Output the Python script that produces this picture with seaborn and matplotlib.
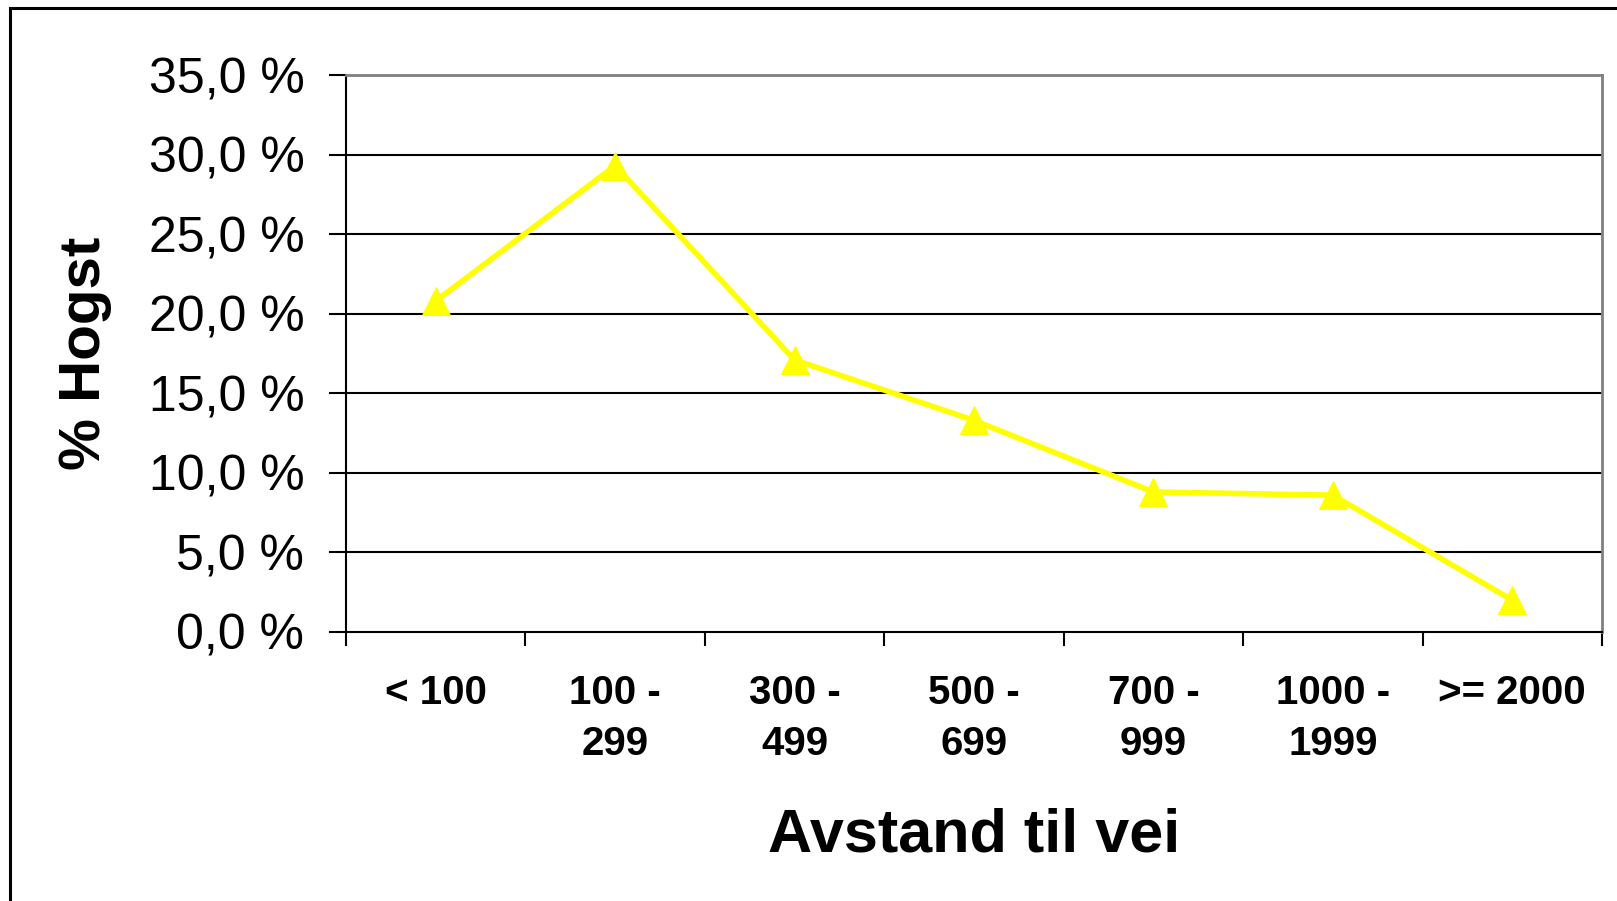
import matplotlib
matplotlib.use("Agg")
import matplotlib.pyplot as plt
import numpy as np
import pandas as pd
import seaborn as sns
from matplotlib.patches import Rectangle
from matplotlib.ticker import FixedLocator, FuncFormatter

# Share of logging (%) by distance to road
categories = ["< 100", "100 -\n299", "300 -\n499", "500 -\n699",
              "700 -\n999", "1000 -\n1999", ">= 2000"]
hogst_pct = [20.8, 29.3, 17.1, 13.3, 8.8, 8.6, 2.0]
y_ticks = [0, 5, 10, 15, 20, 25, 30, 35]

df = pd.DataFrame({"pos": np.arange(len(categories)), "hogst": hogst_pct})

sns.set_style("white")
plt.rcParams["font.family"] = ["Liberation Sans", "DejaVu Sans"]
plt.rcParams["text.color"] = "black"
plt.rcParams["axes.labelcolor"] = "black"
plt.rcParams["xtick.color"] = "black"
plt.rcParams["ytick.color"] = "black"

W, H = 1617, 901
fig = plt.figure(figsize=(W / 100, H / 100), dpi=100)
ax = fig.add_axes([346 / W, 1 - 632 / H, (1602 - 346) / W, (632 - 75) / H])

# outer chart frame
fig.patches.append(Rectangle((10 / W, -0.05), 1.2, 1 - 8 / H + 0.05,
                             transform=fig.transFigure, fill=False,
                             edgecolor="black", linewidth=2.2, zorder=0))

for v in y_ticks[1:-1]:
    ax.axhline(v, color="black", linewidth=1.5, zorder=1)

sns.lineplot(data=df, x="pos", y="hogst", ax=ax, sort=False,
             color="#FFFF00", linewidth=4, marker="^", markersize=20,
             markeredgecolor="#FFFF00", markerfacecolor="#FFFF00", zorder=3)

ax.set_xlim(-0.5, len(categories) - 0.5)
ax.set_ylim(0, 35)

ax.set_yticks(y_ticks)
ax.yaxis.set_major_formatter(FuncFormatter(lambda v, p: f"{v:.1f}".replace(".", ",") + " %"))
ax.tick_params(axis="y", which="major", direction="out", length=12, width=1.5,
               color="black", labelcolor="black", labelsize=36, pad=18, left=True)

ax.set_xticks(np.arange(len(categories)))
ax.set_xticklabels(categories, fontweight="bold", fontsize=29, linespacing=1.45)
ax.tick_params(axis="x", which="major", length=0, pad=30, bottom=True,
               labelcolor="black")
ax.xaxis.set_minor_locator(FixedLocator(np.arange(-0.5, len(categories), 1.0)))
ax.tick_params(axis="x", which="minor", direction="out", length=10, width=1.5,
               color="black", bottom=True)

ax.set_xlabel("Avstand til vei", fontsize=44, fontweight="bold", labelpad=32,
              color="black")
ax.set_ylabel("% Hogst", fontsize=42, fontweight="bold", labelpad=26,
              color="black")

for side in ["left", "bottom"]:
    ax.spines[side].set_color("black")
    ax.spines[side].set_linewidth(1.5)
for side in ["top", "right"]:
    ax.spines[side].set_visible(True)
    ax.spines[side].set_color("#808080")
    ax.spines[side].set_linewidth(2)

fig.savefig("out.png", dpi=100)
